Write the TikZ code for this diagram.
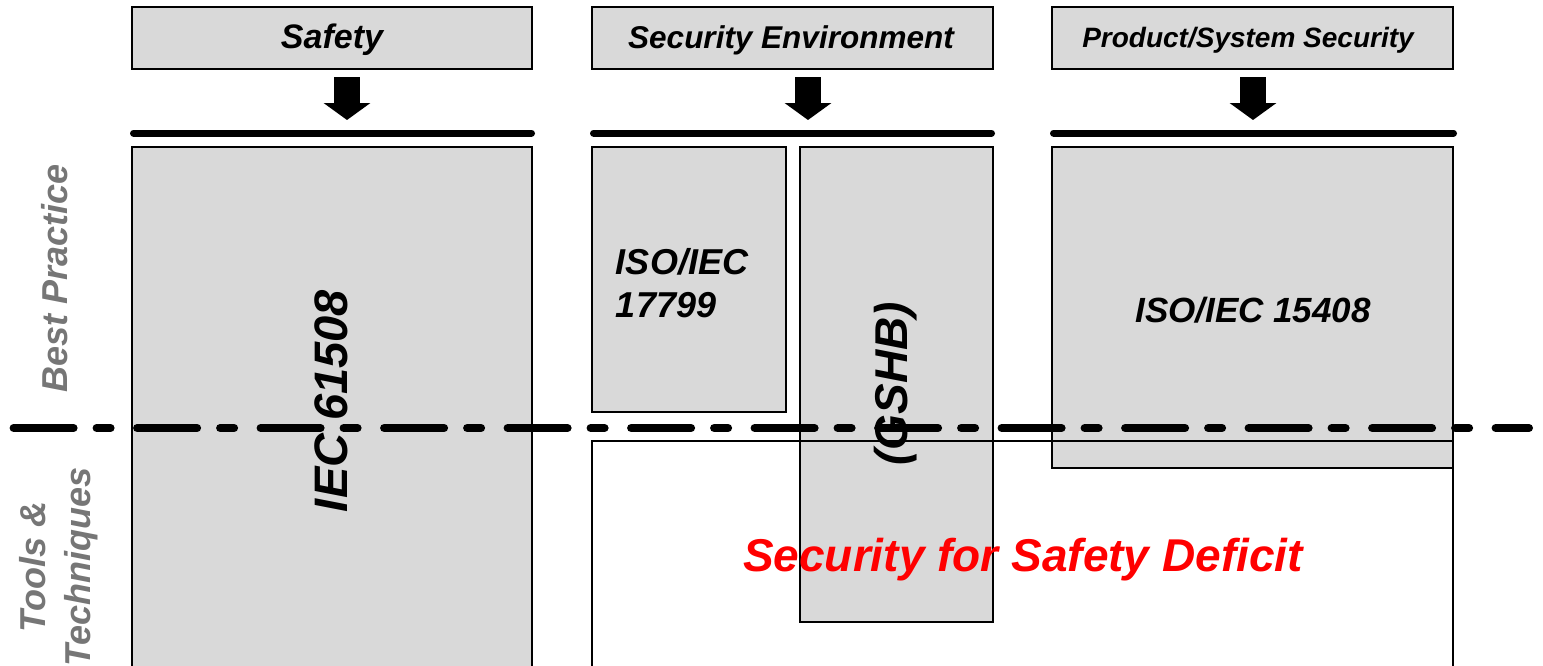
\documentclass[tikz,border=0pt]{standalone}
\usepackage{fontspec}
\setmainfont{Liberation Sans}
\usetikzlibrary{arrows.meta}

\definecolor{boxgray}{RGB}{217,217,217}
\definecolor{labelgray}{RGB}{118,118,118}
\definecolor{deficitred}{RGB}{255,0,0}

\tikzset{
  gbox/.style={draw=black, line width=1.5pt, fill=boxgray, inner sep=0pt},
  openbox/.style={draw=black, line width=1.5pt, inner sep=0pt},
  txt/.style={inner sep=0pt, font=\bfseries\itshape},
  sidelabel/.style={txt, text=labelgray, rotate=90},
  bar/.style={line width=7pt, line cap=round},
  downarrow/.style={line width=26pt, -{Triangle[width=46pt,length=17pt]}},
  divider/.style={line width=8pt, line cap=round,
    dash pattern=on 60pt off 23pt on 14pt off 26.5pt}
}

\begin{document}
\begin{tikzpicture}[x=1pt, y=-1pt]
  \useasboundingbox (0,0) rectangle (1543,665);
  \clip (0,0) rectangle (1543,665);

  % header boxes
  \node[gbox, minimum width=400, minimum height=62] (hsafe) at (332,38) {};
  \node[txt, font=\fontsize{34}{40}\selectfont\bfseries\itshape] (tsafe) at (332,40) {Safety};
  \node[gbox, minimum width=401, minimum height=62] (hsec) at (792.5,38) {};
  \node[txt, font=\fontsize{31.5}{38}\selectfont\bfseries\itshape] (tsec) at (791,40) {Security Environment};
  \node[gbox, minimum width=401, minimum height=62] (hprod) at (1252.5,38) {};
  \node[txt, font=\fontsize{28}{34}\selectfont\bfseries\itshape] (tprod) at (1248,40) {Product/System Security};

  % block arrows from the headers down to the bars
  \coordinate (a1s) at (347,77);  \coordinate (a1e) at (347,120);
  \coordinate (a2s) at (808,77);  \coordinate (a2e) at (808,120);
  \coordinate (a3s) at (1253,77); \coordinate (a3e) at (1253,120);
  \draw[downarrow] (a1s) -- (a1e);
  \draw[downarrow] (a2s) -- (a2e);
  \draw[downarrow] (a3s) -- (a3e);

  % thick bars
  \coordinate (b1l) at (133.5,133); \coordinate (b1r) at (531.5,133);
  \coordinate (b2l) at (593.5,133); \coordinate (b2r) at (991.5,133);
  \coordinate (b3l) at (1053.5,133); \coordinate (b3r) at (1453.5,133);
  \draw[bar] (b1l) -- (b1r);
  \draw[bar] (b2l) -- (b2r);
  \draw[bar] (b3l) -- (b3r);

  % standards boxes
  \node[gbox, minimum width=400, minimum height=553] (iec) at (332,423.5) {};
  \node[gbox, minimum width=194, minimum height=265] (iso17799) at (689,279.5) {};
  \node[gbox, minimum width=401, minimum height=321] (iso15408) at (1252.5,307.5) {};
  \node[gbox, minimum width=193, minimum height=475] (gshb) at (896.5,384.5) {};

  \node[txt, rotate=90, font=\fontsize{47}{56}\selectfont\bfseries\itshape] (tiec) at (331,401) {IEC 61508};
  \node[txt, align=left, font=\fontsize{36}{43}\selectfont\bfseries\itshape] (t17799) at (682,283) {ISO/IEC\\17799};
  \node[txt, font=\fontsize{35}{42}\selectfont\bfseries\itshape] (t15408) at (1253,310) {ISO/IEC 15408};
  \node[txt, rotate=90, font=\fontsize{46}{55}\selectfont\bfseries\itshape] (tgshb) at (896,384) {(GSHB)};

  % deficit region
  \node[openbox, minimum width=861, minimum height=259] (deficit) at (1022.5,570.5) {};
  \node[txt, text=deficitred, font=\fontsize{46}{55}\selectfont\bfseries\itshape] (tdef) at (1023,560) {Security for Safety Deficit};

  % row labels
  \node[sidelabel, font=\fontsize{36}{42}\selectfont\bfseries\itshape] (tbest) at (55,278) {Best Practice};
  \node[sidelabel, align=center, font=\fontsize{36}{45}\selectfont\bfseries\itshape] (ttools) at (59,567) {Tools \&\\Techniques};

  % divider between best practice and tools
  \coordinate (dl) at (13.6,428); \coordinate (dr) at (1529,428);
  \draw[divider] (dl) -- (dr);
\end{tikzpicture}
\end{document}
